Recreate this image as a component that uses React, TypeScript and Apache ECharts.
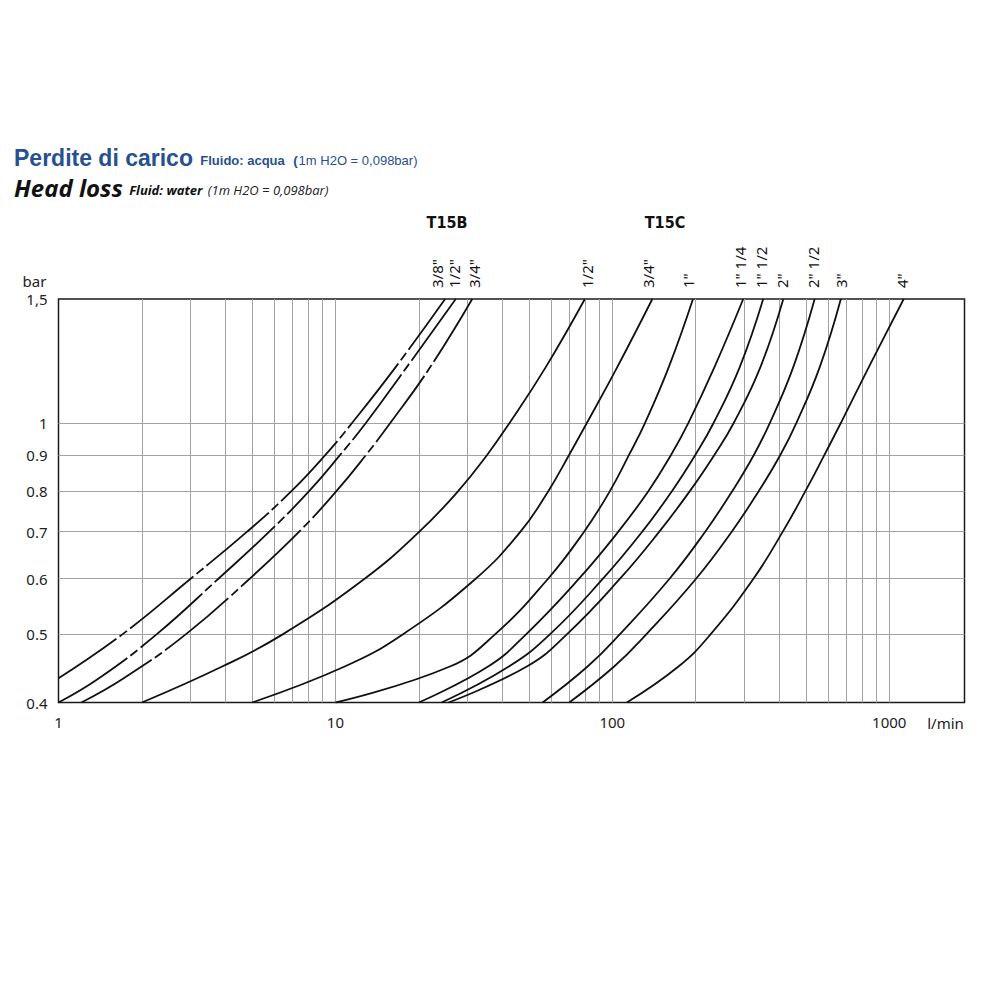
import React, { useEffect, useRef } from "react";
import * as echarts from "echarts";

// ---- axes ----
const X_MIN = 1;
const X_MAX = 1870;
const Y_MIN = 0.4;
const Y_MAX = 1.5;
const X_TICKS = [1, 10, 100, 1000];
const Y_TICKS = [0.4, 0.5, 0.6, 0.7, 0.8, 0.9, 1, 1.5];
const Y_TICK_LABELS = ["0.4", "0.5", "0.6", "0.7", "0.8", "0.9", "1", "1,5"];
const X_GRID = [2, 3, 4, 5, 6, 7, 8, 9, 10, 20, 30, 40, 50, 60, 70, 80, 90, 100, 200, 300, 400, 500, 600, 700, 800, 900, 1000];
const Y_GRID = [0.5, 0.6, 0.7, 0.8, 0.9, 1];

// ---- T15B curves: [flow l/min, head loss bar] ----
const B_3_8 = [[1, 0.433], [1.7, 0.5], [3.0, 0.6], [4.8, 0.7], [6.95, 0.8], [9.2, 0.9], [11.5, 1.0], [16.5, 1.2], [24.9, 1.5]];
const B_1_2 = [[1, 0.4], [1.4, 0.433], [2.26, 0.5], [3.78, 0.6], [5.77, 0.7], [8.05, 0.8], [10.4, 0.9], [12.9, 1.0], [18.1, 1.2], [27.2, 1.5]];
const B_3_4 = [[1.21, 0.4], [1.72, 0.433], [2.88, 0.5], [4.9, 0.6], [7.4, 0.7], [10.1, 0.8], [12.9, 0.9], [15.8, 1.0], [22.0, 1.2], [31.2, 1.5]];

// ---- T15C curves ----
const C_1_2 = [[2, 0.4], [3.9, 0.45], [6.45, 0.5], [12.75, 0.6], [20.1, 0.7], [27.8, 0.8], [35.3, 0.9], [42.6, 1.0], [57.5, 1.2], [79.6, 1.5]];
const C_3_4 = [[5, 0.4], [10.8, 0.45], [17.5, 0.5], [32.1, 0.6], [46.6, 0.7], [58.8, 0.8], [69.8, 0.9], [81, 1.0], [104.2, 1.2], [139.5, 1.5]];
const C_1 = [[10, 0.4], [25.9, 0.45], [37.7, 0.5], [58.6, 0.6], [79.1, 0.7], [98.1, 0.8], [114.9, 0.9], [131.3, 1.0], [159.9, 1.2], [195.6, 1.5]];
const C_1_1_4 = [[20, 0.4], [35.6, 0.45], [48.8, 0.5], [75.8, 0.6], [105.1, 0.7], [135.1, 0.8], [162.9, 0.9], [188.3, 1.0], [233.8, 1.2], [297, 1.5]];
const C_1_1_2 = [[24.2, 0.4], [42.3, 0.45], [59.5, 0.5], [92.5, 0.6], [128.3, 0.7], [164.4, 0.8], [199.4, 0.9], [232.3, 1.0], [288.5, 1.2], [350.7, 1.5]];
const C_2 = [[25.6, 0.4], [49.1, 0.45], [68.5, 0.5], [106.6, 0.6], [147.8, 0.7], [190.8, 0.8], [233.6, 0.9], [274.7, 1.0], [342.6, 1.2], [414.5, 1.5]];
const C_2_1_2 = [[56, 0.4], [81.4, 0.45], [106.3, 0.5], [160.9, 0.6], [216.5, 0.7], [271.5, 0.8], [324.4, 0.9], [370.8, 1.0], [450.2, 1.2], [538, 1.5]];
const C_3 = [[69.9, 0.4], [101.5, 0.45], [132.6, 0.5], [200.6, 0.6], [269.9, 0.7], [338.3, 0.8], [404.3, 0.9], [462.3, 1.0], [561.1, 1.2], [668.8, 1.5]];
const C_4 = [[112.8, 0.4], [173.3, 0.45], [226.2, 0.5], [323.3, 0.6], [412.7, 0.7], [498.5, 0.8], [583.4, 0.9], [669.3, 1.0], [843.9, 1.2], [1128, 1.5]];

const CURVE_NAMES = ['3/8"', '1/2"', '3/4"', '1/2"', '3/4"', '1"', '1" 1/4', '1" 1/2', '2"', '2" 1/2', '3"', '4"'];
const CURVE_DATA = [B_3_8, B_1_2, B_3_4, C_1_2, C_3_4, C_1, C_1_1_4, C_1_1_2, C_2, C_2_1_2, C_3, C_4];
const CURVE_DASHED = [true, true, true, false, false, false, false, false, false, false, false, false];
const DASH_OFFSET = [12, 0, 0];
const LABEL_DX = [-8, -2, 2, 2, -4, -5, -3, -2, -1, -2, 0, -2];

const TITLE_FONT = "'Liberation Sans', Arial, Helvetica, sans-serif";
const SUB_FONT = "'Open Sans', Lato, sans-serif";
const AXIS_FONT = "'Noto Sans', 'DejaVu Sans', sans-serif";
const BLUE = "#27508f";

export default function App() {
  const ref = useRef<HTMLDivElement>(null);

  useEffect(() => {
    if (!ref.current) return;
    const chart = echarts.init(ref.current, null, { renderer: "svg" });

    const curveSeries = CURVE_DATA.map((d, i) => ({
      type: "line",
      name: CURVE_NAMES[i] + "_" + i,
      data: d,
      showSymbol: false,
      symbol: "none",
      smooth: 0.45,
      clip: true,
      z: 5,
      silent: true,
      lineStyle: CURVE_DASHED[i]
        ? { color: "#111", width: 1.8, type: [82, 4, 9, 4], dashOffset: DASH_OFFSET[i] }
        : { color: "#111", width: 1.8, type: "solid" },
    }));

    const gridSeries = {
      type: "line",
      name: "grid",
      data: [[1, 0.4]],
      symbol: "none",
      silent: true,
      z: 1,
      lineStyle: { opacity: 0 },
      markLine: {
        silent: true,
        symbol: ["none", "none"],
        label: { show: false },
        lineStyle: { color: "#a2a2a2", width: 1, type: "solid" },
        emphasis: { disabled: true },
        data: [
          ...X_GRID.map((v) => ({ xAxis: v })),
          ...Y_GRID.map((v) => ({ yAxis: v })),
        ],
      },
    };

    const option: any = {
      animation: false,
      backgroundColor: "#fff",
      grid: {
        left: 58.5,
        right: 35.5,
        top: 299,
        bottom: 297.5,
        show: true,
        borderColor: "#1a1a1a",
        borderWidth: 1.5,
        backgroundColor: "transparent",
      },
      xAxis: {
        type: "log",
        logBase: 10,
        min: X_MIN,
        max: X_MAX,
        axisLine: { show: false },
        axisTick: { show: false },
        splitLine: { show: false },
        minorSplitLine: { show: false },
        axisLabel: {
          customValues: X_TICKS,
          formatter: (v: number) => String(Math.round(v)),
          color: "#222",
          fontSize: 15,
          fontFamily: AXIS_FONT,
          margin: 12,
        },
      },
      yAxis: {
        type: "log",
        logBase: 10,
        min: Y_MIN,
        max: Y_MAX,
        axisLine: { show: false },
        axisTick: { show: false },
        splitLine: { show: false },
        axisLabel: {
          customValues: Y_TICKS,
          formatter: (v: number) => {
            let best = 0;
            Y_TICKS.forEach((t, k) => {
              if (Math.abs(t - v) < Math.abs(Y_TICKS[best] - v)) best = k;
            });
            return Y_TICK_LABELS[best];
          },
          color: "#222",
          fontSize: 15,
          fontFamily: AXIS_FONT,
          margin: 11,
        },
      },
      series: [gridSeries, ...curveSeries],
    };

    chart.setOption(option);

    const curveLabels = CURVE_DATA.map((d, i) => {
      const last = d[d.length - 1];
      const p = chart.convertToPixel({ gridIndex: 0 }, [last[0], Y_MAX]) as number[];
      return {
        type: "text",
        x: p[0] + LABEL_DX[i],
        y: p[1] - 11,
        rotation: Math.PI / 2,
        silent: true,
        style: {
          text: CURVE_NAMES[i],
          fill: "#111",
          fontSize: 15,
          fontFamily: AXIS_FONT,
          align: "left",
          verticalAlign: "middle",
        },
      };
    });

    const gl = chart.convertToPixel({ gridIndex: 0 }, [X_MAX, Y_MIN]) as number[];
    const gt = chart.convertToPixel({ gridIndex: 0 }, [X_MIN, Y_MAX]) as number[];

    const graphics: any[] = [
      {
        type: "text",
        left: 14,
        top: 146,
        silent: true,
        style: {
          text: "{a|Perdite di carico} {b|Fluido: acqua} {c|(}{d|1m H2O = 0,098bar)}",
          rich: {
            a: { fontSize: 23, fontWeight: "bold", fill: BLUE, fontFamily: TITLE_FONT, lineHeight: 26, verticalAlign: "bottom" },
            b: { fontSize: 13, fontWeight: "bold", fill: BLUE, fontFamily: TITLE_FONT, lineHeight: 16, verticalAlign: "bottom", padding: [0, 0, 2, 4] },
            c: { fontSize: 13.5, fontWeight: "bold", fill: BLUE, fontFamily: TITLE_FONT, lineHeight: 16, verticalAlign: "bottom", padding: [0, 0, 2, 5] },
            d: { fontSize: 13, fontWeight: "normal", fill: BLUE, fontFamily: TITLE_FONT, lineHeight: 16, verticalAlign: "bottom", padding: [0, 0, 2, 1] },
          },
        },
      },
      {
        type: "text",
        left: 14,
        top: 175,
        silent: true,
        style: {
          text: "{a|Head loss} {b|Fluid: water} {c|(1m H2O = 0,098bar)}",
          rich: {
            a: { fontSize: 24, fontWeight: "bold", fontStyle: "italic", fill: "#111", fontFamily: SUB_FONT, lineHeight: 27, verticalAlign: "bottom" },
            b: { fontSize: 13, fontWeight: "bold", fontStyle: "italic", fill: "#111", fontFamily: SUB_FONT, lineHeight: 16, verticalAlign: "bottom", padding: [0, 0, 3, 3] },
            c: { fontSize: 13, fontWeight: "normal", fontStyle: "italic", fill: "#222", fontFamily: SUB_FONT, lineHeight: 16, verticalAlign: "bottom", padding: [0, 0, 3, 2] },
          },
        },
      },
      {
        type: "text",
        x: 447,
        y: 222,
        silent: true,
        style: {
          text: "T15B",
          fill: "#111",
          fontSize: 16,
          fontWeight: "bold",
          fontFamily: "'Liberation Sans Narrow', 'DejaVu Sans Condensed', 'Arial Narrow', sans-serif",
          align: "center",
          verticalAlign: "middle",
        },
      },
      {
        type: "text",
        x: 665,
        y: 222,
        silent: true,
        style: {
          text: "T15C",
          fill: "#111",
          fontSize: 16,
          fontWeight: "bold",
          fontFamily: "'Liberation Sans Narrow', 'DejaVu Sans Condensed', 'Arial Narrow', sans-serif",
          align: "center",
          verticalAlign: "middle",
        },
      },
      {
        type: "text",
        x: gt[0] - 24,
        y: gt[1] - 18,
        silent: true,
        style: { text: "bar", fill: "#222", fontSize: 15, fontFamily: AXIS_FONT, align: "center", verticalAlign: "middle" },
      },
      {
        type: "text",
        x: gl[0] - 19,
        y: gl[1] + 20,
        silent: true,
        style: { text: "l/min", fill: "#222", fontSize: 15, fontFamily: AXIS_FONT, align: "center", verticalAlign: "middle" },
      },
      ...curveLabels,
    ];

    chart.setOption({ graphic: graphics });

    return () => {
      chart.dispose();
    };
  }, []);

  return (
    <div
      ref={ref}
      style={{ position: "fixed", left: 0, top: 0, width: 1000, height: 1000, background: "#fff" }}
    />
  );
}
